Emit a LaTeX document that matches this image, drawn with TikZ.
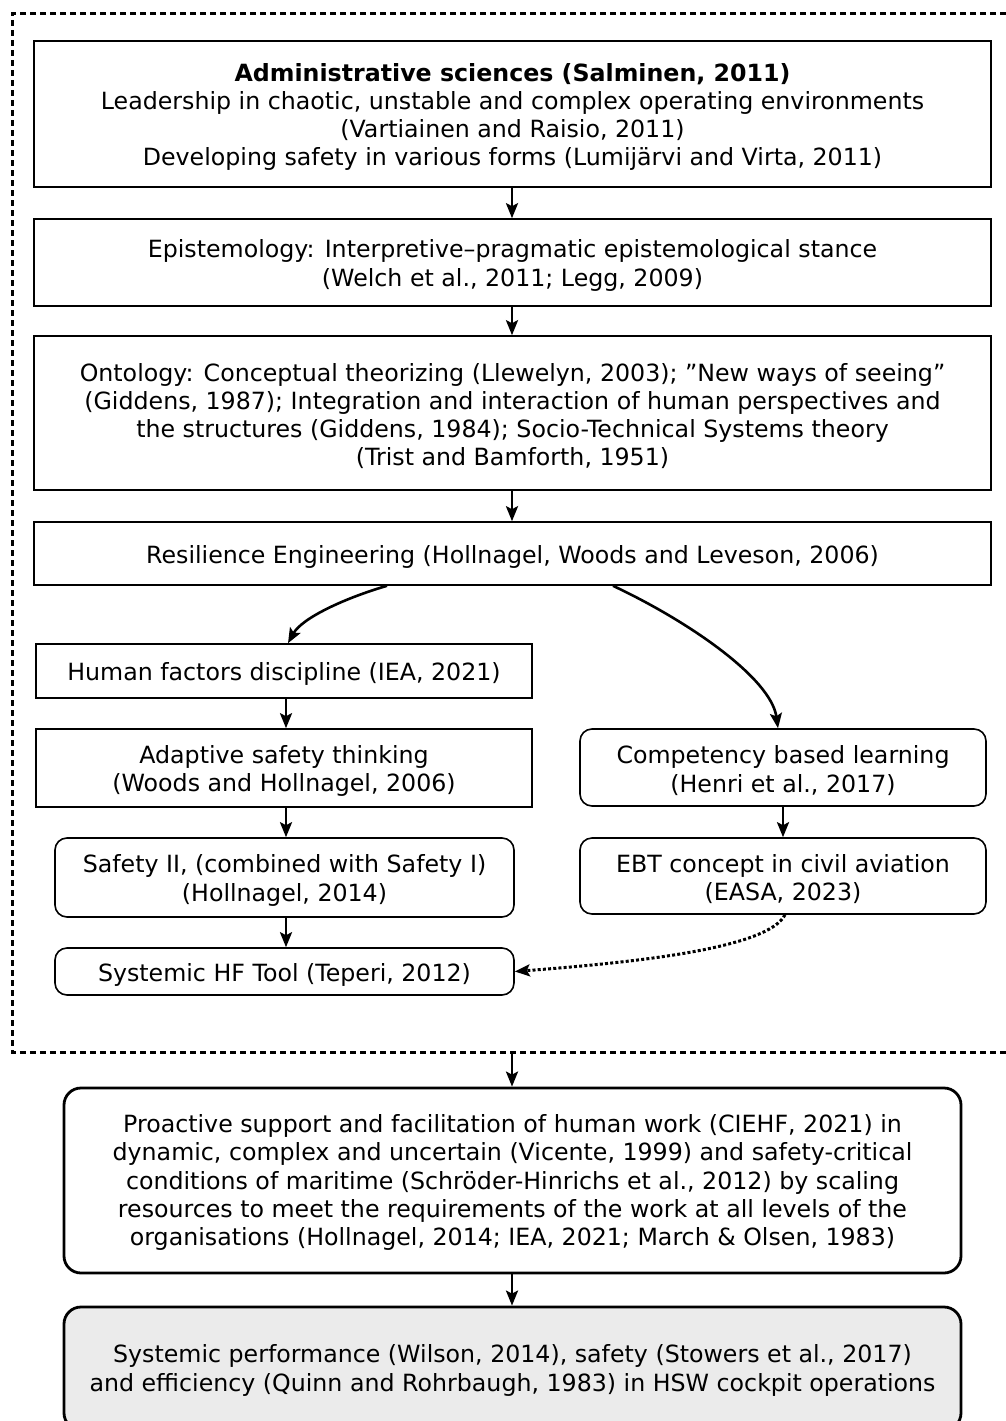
\documentclass[tikz,border=0pt]{standalone}
\usepackage{fontspec}
\setmainfont{DejaVu Sans}
\usetikzlibrary{arrows.meta}
\tikzset{
  txt/.style={align=center, inner sep=0pt, font=\fontsize{23.7}{28.2}\selectfont},
  sqbox/.style={draw, line width=1.6pt, inner sep=0pt},
  rbox/.style={draw, line width=1.6pt, rounded corners=12pt, inner sep=0pt},
  bigbox/.style={draw, line width=2.8pt, rounded corners=17pt, inner sep=0pt},
  conn/.style={line width=2.6pt, -{Stealth[length=15pt,width=12pt,inset=3pt]}},
  dotconn/.style={line width=3pt, dash pattern=on 3pt off 2.2pt, -{Stealth[length=15pt,width=12pt,inset=3pt]}},
  outerframe/.style={line width=3pt, dash pattern=on 6pt off 4pt}
}
\begin{document}
\begin{tikzpicture}[x=1pt,y=-1pt]
\useasboundingbox (0,0) rectangle (1006,1421);
\draw[outerframe] (1006,14) -- (12,14) -- (12,1052) -- (1006,1052);

\node[sqbox, minimum width=957pt, minimum height=146pt] (A) at (512.5,114) {};
\node[txt] (At) at ([yshift=-3pt]A.center)
  {{\bfseries Administrative sciences (Salminen, 2011)}\\
   Leadership in chaotic, unstable and complex operating environments\\
   (Vartiainen and Raisio, 2011)\\
   Developing safety in various forms (Lumijärvi and Virta, 2011)};
\node[sqbox, minimum width=957pt, minimum height=87pt] (B) at (512.5,262.5) {};
\node[txt] (Bt) at ([yshift=-3pt]B.center)
  {Epistemology: Interpretive–pragmatic epistemological stance\\
   (Welch et al., 2011; Legg, 2009)};
\node[sqbox, minimum width=957pt, minimum height=154pt] (C) at (512.5,413) {};
\node[txt] (Ct) at ([yshift=-3pt]C.center)
  {Ontology: Conceptual theorizing (Llewelyn, 2003); ”New ways of seeing”\\
   (Giddens, 1987); Integration and interaction of human perspectives and\\
   the structures (Giddens, 1984); Socio-Technical Systems theory\\
   (Trist and Bamforth, 1951)};
\node[sqbox, minimum width=957pt, minimum height=63pt] (D) at (512.5,553.5) {};
\node[txt] (Dt) at ([yshift=-3pt]D.center)
  {Resilience Engineering (Hollnagel, Woods and Leveson, 2006)};

\node[sqbox, minimum width=496pt, minimum height=54pt] (HF) at (284,671) {};
\node[txt] (HFt) at ([yshift=-3pt]HF.center) {Human factors discipline (IEA, 2021)};
\node[sqbox, minimum width=496pt, minimum height=78pt] (AD) at (284,768) {};
\node[txt] (ADt) at ([yshift=-3pt]AD.center) {Adaptive safety thinking\\(Woods and Hollnagel, 2006)};
\node[rbox, minimum width=406pt, minimum height=77pt] (CB) at (783,767.5) {};
\node[txt] (CBt) at ([yshift=-3pt]CB.center) {Competency based learning\\(Henri et al., 2017)};
\node[rbox, minimum width=459pt, minimum height=79pt] (S2) at (284.5,877.5) {};
\node[txt] (S2t) at ([yshift=-3pt]S2.center) {Safety II, (combined with Safety I)\\(Hollnagel, 2014)};
\node[rbox, minimum width=406pt, minimum height=76pt] (EBT) at (783,876) {};
\node[txt] (EBTt) at ([yshift=-3pt]EBT.center) {EBT concept in civil aviation\\(EASA, 2023)};
\node[rbox, minimum width=459pt, minimum height=47pt] (TOOL) at (284.5,971.5) {};
\node[txt] (TOOLt) at ([yshift=-3pt]TOOL.center) {Systemic HF Tool (Teperi, 2012)};

\node[bigbox, minimum width=897pt, minimum height=185pt] (PRO) at (512.5,1180.5) {};
\node[txt] (PROt) at ([yshift=-2pt]PRO.center)
  {Proactive support and facilitation of human work (CIEHF, 2021) in\\
   dynamic, complex and uncertain (Vicente, 1999) and safety-critical\\
   conditions of maritime (Schröder-Hinrichs et al., 2012) by scaling\\
   resources to meet the requirements of the work at all levels of the\\
   organisations (Hollnagel, 2014; IEA, 2021; March \& Olsen, 1983)};
\node[bigbox, fill=black!8, minimum width=897pt, minimum height=123pt] (SP) at (512.5,1368.5) {};
\node[txt] (SPt) at ([yshift=-2pt]SP.center)
  {Systemic performance (Wilson, 2014), safety (Stowers et al., 2017)\\
   and efficiency (Quinn and Rohrbaugh, 1983) in HSW cockpit operations};

\coordinate (F) at (512,1052);

\draw[conn] (A.south -| 512,0) -- (B.north -| 512,0);
\draw[conn] (B.south -| 512,0) -- (C.north -| 512,0);
\draw[conn] (C.south -| 512,0) -- (D.north -| 512,0);
\draw[conn] (D.south -| 387,0) .. controls (345,598) and (302,618) .. (HF.north -| 288,0);
\draw[conn] (D.south -| 613,0) .. controls (688,621) and (771,678) .. (CB.north -| 778,0);
\draw[conn] (HF.south -| 286,0) -- (AD.north -| 286,0);
\draw[conn] (AD.south -| 286,0) -- (S2.north -| 286,0);
\draw[conn] (S2.south -| 286,0) -- (TOOL.north -| 286,0);
\draw[conn] (CB.south -| 783,0) -- (EBT.north -| 783,0);
\draw[dotconn] (EBT.south -| 785,0) .. controls (768,948) and (640,962) .. (TOOL.east);
\draw[conn] (F) -- (PRO.north -| 512,0);
\draw[conn] (PRO.south -| 512,0) -- (SP.north -| 512,0);
\end{tikzpicture}
\end{document}
